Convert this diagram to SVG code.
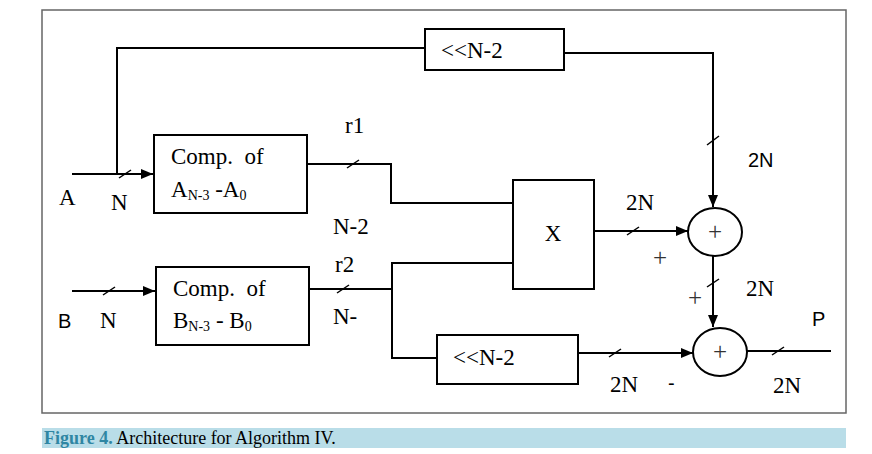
<svg xmlns="http://www.w3.org/2000/svg" width="872" height="454" viewBox="0 0 872 454">
<style>
.box{fill:#fff;stroke:#000;stroke-width:2}
.ln{fill:none;stroke:#000;stroke-width:2}
.tk{fill:none;stroke:#000;stroke-width:1.5}
.s{font-family:"Liberation Serif","Times New Roman",serif;font-size:23px;fill:#000}
.sub{font-size:14px}
.a{font-family:"Liberation Sans",Arial,sans-serif;font-size:20px;fill:#000}
.pl{font-family:"Liberation Serif","Times New Roman",serif;font-size:25px;fill:#333}
.cap{font-family:"Liberation Serif","Times New Roman",serif;font-size:18px}
</style>
<defs>
<marker id="ar" viewBox="0 0 12 10" refX="12" refY="5" markerWidth="12" markerHeight="10" markerUnits="userSpaceOnUse" orient="auto">
<path d="M0,0 L12,5 L0,10 Z" fill="#000"/>
</marker>
</defs>
<rect x="0" y="0" width="872" height="454" fill="#fff"/>
<rect x="42" y="10" width="804" height="403" fill="none" stroke="#666" stroke-width="1.5"/>
<rect x="42" y="428" width="804" height="20" fill="#b9dde8"/>
<text class="cap" x="44" y="444"><tspan font-weight="bold" fill="#2f86a3">Figure 4.</tspan><tspan fill="#000"> Architecture for Algorithm IV.</tspan></text>

<g id="connectors">
<path class="ln" d="M72,174 H153" marker-end="url(#ar)"/>
<path class="ln" d="M117,174 V48 H425"/>
<path class="ln" d="M564,53 H713 V207" marker-end="url(#ar)"/>
<path class="ln" d="M307,164 H391 V203 H513"/>
<path class="ln" d="M72,291 H155" marker-end="url(#ar)"/>
<path class="ln" d="M309,289 H392"/>
<path class="ln" d="M513,263 H392 V358 H437"/>
<path class="ln" d="M594,231 H688" marker-end="url(#ar)"/>
<path class="ln" d="M713,256 V327" marker-end="url(#ar)"/>
<path class="ln" d="M578,353 H693" marker-end="url(#ar)"/>
<path class="ln" d="M747,351 H831"/>
<g class="tk">
<path d="M119,178 L131,170"/>
<path d="M707,145 L719,136"/>
<path d="M347,168 L359,160"/>
<path d="M103,295 L115,287"/>
<path d="M337,293 L349,285"/>
<path d="M627,235 L639,227"/>
<path d="M707,287 L719,279"/>
<path d="M609,357 L621,349"/>
<path d="M772,355 L784,347"/>
</g>
</g>

<g id="shiftTop">
<rect class="box" x="425" y="29" width="139" height="41"/>
<text class="s" x="441" y="58">&lt;&lt;N-2</text>
</g>
<g id="compA">
<rect class="box" x="154" y="135" width="153" height="78"/>
<text class="s" x="171" y="164" xml:space="preserve">Comp.  of</text>
<text class="s" x="171" y="197">A<tspan class="sub" dy="3">N-3</tspan><tspan dy="-3"> -A</tspan><tspan class="sub" dy="3">0</tspan></text>
</g>
<g id="compB">
<rect class="box" x="156" y="267" width="153" height="78"/>
<text class="s" x="173" y="296" xml:space="preserve">Comp.  of</text>
<text class="s" x="173" y="328">B<tspan class="sub" dy="3">N-3</tspan><tspan dy="-3"> - B</tspan><tspan class="sub" dy="3">0</tspan></text>
</g>
<g id="mult">
<rect class="box" x="513" y="180" width="81" height="109"/>
<text class="s" x="553" y="241" text-anchor="middle">X</text>
</g>
<g id="add1">
<ellipse class="box" cx="715" cy="232" rx="27" ry="24"/>
<text class="pl" x="715" y="240" text-anchor="middle">+</text>
</g>
<g id="add2">
<ellipse class="box" cx="720" cy="352" rx="27" ry="24"/>
<text class="pl" x="720" y="360" text-anchor="middle">+</text>
</g>
<g id="shiftBot">
<rect class="box" x="437" y="335" width="141" height="49"/>
<text class="s" x="453" y="365">&lt;&lt;N-2</text>
</g>

<g id="labels">
<text class="s" x="59" y="205">A</text>
<text class="s" x="111" y="210">N</text>
<text class="s" x="345" y="133">r1</text>
<text class="s" x="333" y="234">N-2</text>
<text class="s" x="335" y="272">r2</text>
<text class="s" x="333" y="324">N-</text>
<text class="a" x="58" y="328">B</text>
<text class="s" x="100" y="328">N</text>
<text class="a" x="748" y="167">2N</text>
<text class="s" x="626" y="210">2N</text>
<text class="pl" x="660" y="266" text-anchor="middle">+</text>
<text class="pl" x="695" y="306" text-anchor="middle">+</text>
<text class="s" x="746" y="296">2N</text>
<text class="a" x="812" y="326">P</text>
<text class="s" x="610" y="392">2N</text>
<text class="a" x="668" y="390">-</text>
<text class="s" x="773" y="393">2N</text>
</g>
</svg>
